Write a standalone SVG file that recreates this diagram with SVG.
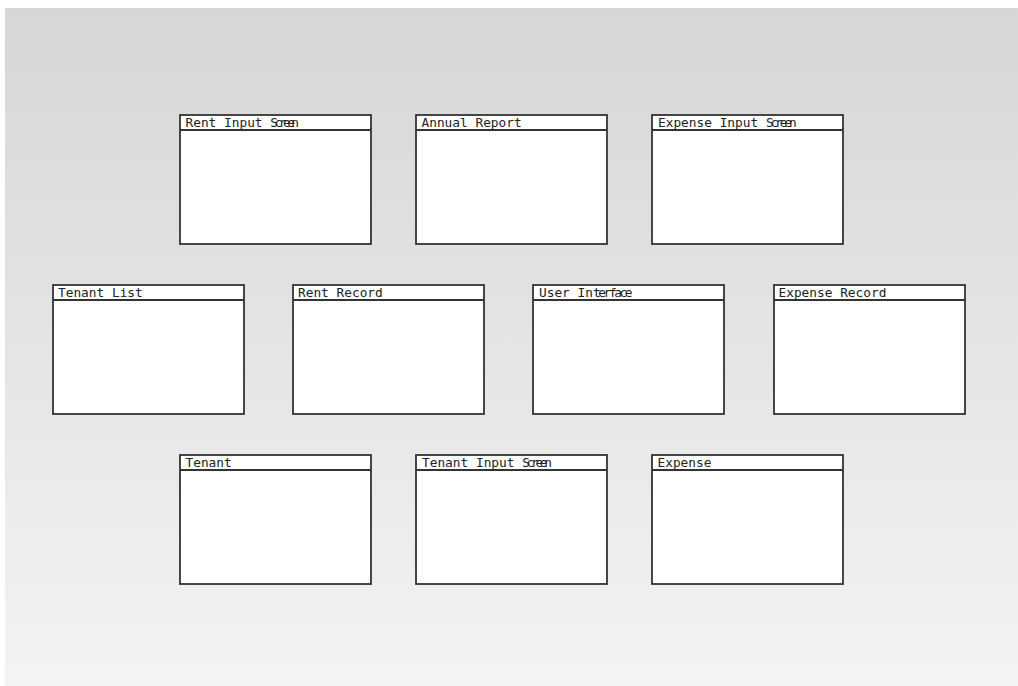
<svg xmlns="http://www.w3.org/2000/svg" width="1018" height="686" viewBox="0 0 1018 686">
<defs>
<linearGradient id="bg" x1="0" y1="0" x2="0" y2="1">
<stop offset="0" stop-color="#d6d6d6"/>
<stop offset="1" stop-color="#f3f3f3"/>
</linearGradient>
</defs>
<style>
.box{fill:#ffffff;stroke:#333333;stroke-width:1.8}
.bar{fill:none;stroke:#333333;stroke-width:1.8}
.t{font-family:"DejaVu Sans Mono","Liberation Mono",monospace;font-size:12.8px;fill:#222222}
</style>
<rect x="0" y="0" width="1018" height="686" fill="#ffffff"/>
<rect x="5" y="8" width="1013" height="678" fill="url(#bg)"/>
<g id="connectors"></g>
<g id="rent-input-screen">
<rect class="box" x="180" y="115" width="191" height="129"/>
<line class="bar" x1="180" y1="130" x2="371" y2="130"/>
<text class="t" x="185.5" y="127">Rent Input <tspan dx="0 -3.5 -3.5 -3.5 -3.5 -3.5">Screen</tspan></text>
</g>
<g id="annual-report">
<rect class="box" x="416" y="115" width="191" height="129"/>
<line class="bar" x1="416" y1="130" x2="607" y2="130"/>
<text class="t" x="421.5" y="127">Annual Report</text>
</g>
<g id="expense-input-screen">
<rect class="box" x="652" y="115" width="191" height="129"/>
<line class="bar" x1="652" y1="130" x2="843" y2="130"/>
<text class="t" x="658" y="127">Expense Input <tspan dx="0 -3.1 -3.1 -3.1 -3.1 -3.1">Screen</tspan></text>
</g>
<g id="tenant-list">
<rect class="box" x="53" y="285" width="191" height="129"/>
<line class="bar" x1="53" y1="300" x2="244" y2="300"/>
<text class="t" x="58" y="297">Tenant List</text>
</g>
<g id="rent-record">
<rect class="box" x="293" y="285" width="191" height="129"/>
<line class="bar" x1="293" y1="300" x2="484" y2="300"/>
<text class="t" x="298" y="297">Rent Record</text>
</g>
<g id="user-interface">
<rect class="box" x="533" y="285" width="191" height="129"/>
<line class="bar" x1="533" y1="300" x2="724" y2="300"/>
<text class="t" x="539" y="297">User In<tspan dx="0 -2.4 -2.4 -2.4 -2.4 -2.4 -2.4">terface</tspan></text>
</g>
<g id="expense-record">
<rect class="box" x="774" y="285" width="191" height="129"/>
<line class="bar" x1="774" y1="300" x2="965" y2="300"/>
<text class="t" x="778.5" y="297">Expense Record</text>
</g>
<g id="tenant">
<rect class="box" x="180" y="455" width="191" height="129"/>
<line class="bar" x1="180" y1="470" x2="371" y2="470"/>
<text class="t" x="185.5" y="467">Tenant</text>
</g>
<g id="tenant-input-screen">
<rect class="box" x="416" y="455" width="191" height="129"/>
<line class="bar" x1="416" y1="470" x2="607" y2="470"/>
<text class="t" x="422" y="467">Tenant Input <tspan dx="0 -3.3 -3.3 -3.3 -3.3 -3.3">Screen</tspan></text>
</g>
<g id="expense">
<rect class="box" x="652" y="455" width="191" height="129"/>
<line class="bar" x1="652" y1="470" x2="843" y2="470"/>
<text class="t" x="657.5" y="467">Expense</text>
</g>
</svg>
